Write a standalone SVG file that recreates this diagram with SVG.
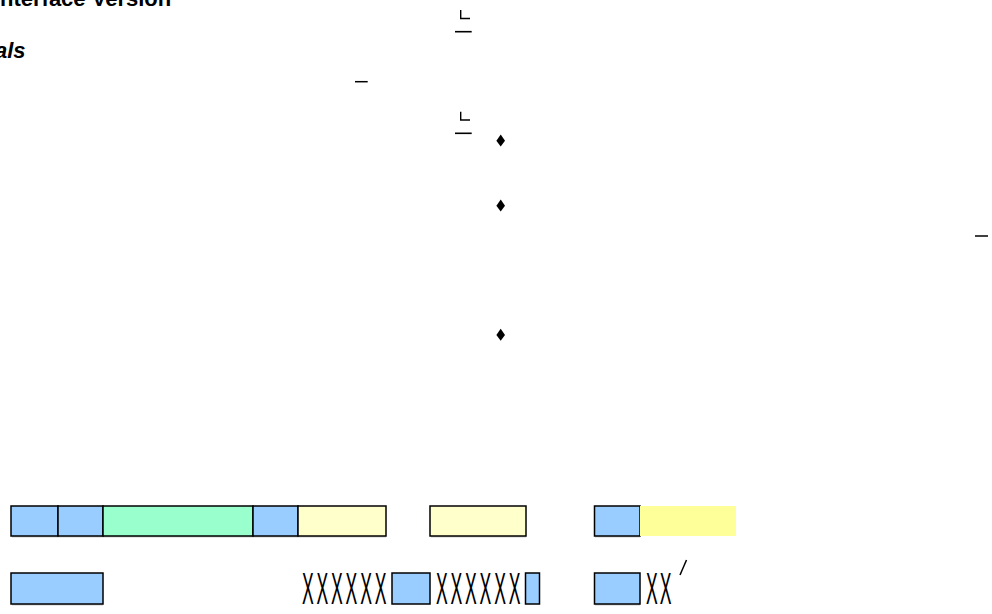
<svg xmlns="http://www.w3.org/2000/svg" width="992" height="614" viewBox="0 0 992 614">
<style>
.t{font-family:"Liberation Sans",Arial,sans-serif;fill:#000}
.b{stroke:#000;stroke-width:1.5}
.blue{fill:#99CCFF}
.green{fill:#99FFCC}
.yel{fill:#FFFFCC}
.sh{fill:#999;opacity:0.5}
.x{font-family:"Liberation Sans",Arial,sans-serif;font-size:44px;fill:#000}
.m{stroke:#000;fill:none}
</style>
<rect width="992" height="614" fill="#fff"/>
<text class="t" x="0" y="5.5" font-size="22" font-weight="bold">nterface Version</text>
<text class="t" x="-5" y="58" font-size="22" font-weight="bold" font-style="italic">als</text>
<g id="marks">
<path class="m" stroke-width="1.4" d="M460.7 10V18.5H470"/>
<path class="m" stroke-width="1.6" d="M455 31.7H471.7"/>
<path class="m" stroke-width="1.5" d="M355 81.7H367.7"/>
<path class="m" stroke-width="1.4" d="M460.7 111.7V120H470"/>
<path class="m" stroke-width="1.6" d="M455 133.3H471.7"/>
<path class="m" stroke-width="1.5" d="M975 236H988"/>
<polygon points="500.7,134.5 505,140.7 500.7,146.5 496.4,140.7"/>
<polygon points="500.7,199.5 505,205.7 500.7,211.5 496.4,205.7"/>
<polygon points="500.7,328.8 505,335 500.7,340.8 496.4,335"/>
</g>
<g id="connectors"></g>
<g id="row1">
<rect class="sh" x="12" y="536" width="374" height="1.5"/>
<g id="r1b1"><rect class="b blue" x="11" y="506" width="47" height="30"/></g>
<g id="r1b2"><rect class="b blue" x="58" y="506" width="45" height="30"/></g>
<g id="r1g3"><rect class="b green" x="103" y="506" width="150" height="30"/></g>
<g id="r1b4"><rect class="b blue" x="253" y="506" width="45" height="30"/></g>
<g id="r1y5"><rect class="b yel" x="298" y="506" width="88" height="30"/></g>
<g id="r1y6"><rect class="sh" x="431" y="536" width="95" height="1.5"/><rect class="b yel" x="430" y="506" width="96" height="30"/></g>
<g id="r1b7"><rect class="sh" x="595" y="536" width="45" height="1.5"/><rect class="b blue" x="594.5" y="506" width="45.5" height="30"/></g>
<g id="r1y8"><rect x="640" y="506" width="96" height="30" fill="#FFFF99"/></g>
</g>
<g id="row2">
<g id="r2b1"><rect class="sh" x="12" y="604" width="91" height="1.5"/><rect class="b blue" x="11" y="573" width="92" height="31"/></g>
<g id="r2x1"><text class="x" transform="translate(302,604) scale(0.4,1)" letter-spacing="7">XXXXXX</text></g>
<g id="r2b2"><rect class="b blue" x="392" y="573" width="38" height="31"/></g>
<g id="r2x2"><text class="x" transform="translate(436,604) scale(0.4,1)" letter-spacing="7">XXXXXX</text></g>
<g id="r2b3"><rect class="b blue" x="525.5" y="573" width="14" height="31"/></g>
<g id="r2b4"><rect class="sh" x="595" y="604" width="45" height="1.5"/><rect class="b blue" x="594.5" y="573" width="45.5" height="31"/></g>
<g id="r2x3"><text class="x" transform="translate(646,604) scale(0.4,1)" letter-spacing="5">XX</text></g>
<path class="m" stroke-width="1.5" d="M680 575L686.5 560"/>
</g>
</svg>
